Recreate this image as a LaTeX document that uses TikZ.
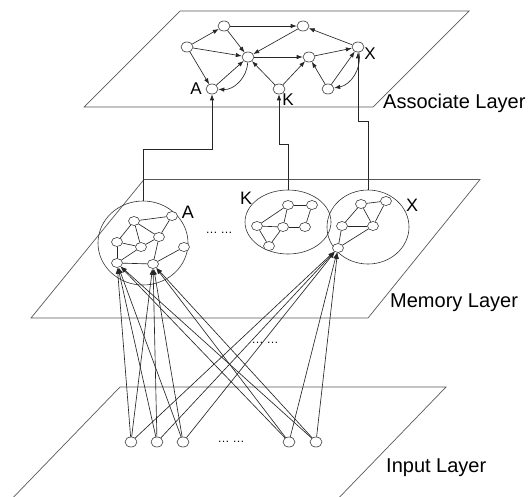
\documentclass[tikz,border=0pt]{standalone}
\usepackage{fontspec}
\setmainfont{Liberation Sans}
\usetikzlibrary{arrows.meta,shapes.geometric}

\begin{document}
\begin{tikzpicture}[x=1pt,y=-1pt,
  layer/.style={draw=black!65, line width=0.7pt},
  wire/.style={draw=black!85, line width=0.65pt},
  arr/.style={wire, -{Latex[length=6pt,width=4.4pt]}},
  unit/.style={draw=black!80, ellipse, line width=0.6pt, minimum width=12pt,
    minimum height=10pt, inner sep=0pt, fill=white},
  munit/.style={unit, minimum width=11pt, minimum height=9pt},
  cluster/.style={draw=black!80, ellipse, line width=0.6pt, inner sep=0pt},
  lay/.style={font=\fontsize{20}{20}\selectfont, anchor=base west, inner sep=0pt},
  tag/.style={font=\fontsize{17}{17}\selectfont, inner sep=0pt},
  dots/.style={font=\fontsize{12}{12}\selectfont, inner sep=0pt},
]
\useasboundingbox (0,0) rectangle (532,496);

% ---- the three layer planes
\draw[layer] (180,11) -- (469,11) -- (373,107) -- (84,107) -- cycle;
\draw[layer] (144,179.5) -- (480,179.5) -- (368,318) -- (31,318) -- cycle;
\draw[layer] (120,387) -- (446,387) -- (330,507) -- (4,507) -- cycle;

\node[lay] (labA) at (383,108) {Associate Layer};
\node[lay] (labM) at (390,307) {Memory Layer};
\node[lay] (labI) at (386,472) {Input Layer};

% ---- associate layer network
\node[unit] (a1) at (187,47) {};
\node[unit] (a2) at (224,26) {};
\node[unit] (a3) at (303,26) {};
\node[unit] (a4) at (248,57) {};
\node[unit] (a5) at (309,57) {};
\node[unit] (aX) at (358,47) {};
\node[unit] (aA) at (212,89) {};
\node[unit] (aK) at (279,89) {};
\node[unit] (a9) at (328,89) {};

\node[tag] (tA) at (196,89) {A};
\node[tag] (tK) at (288,100) {K};
\node[tag] (tX) at (370,54) {X};

\draw[arr] (a1) -- (a2);
\draw[arr] (a2) -- (a3);
\draw[arr] (a2) -- (a4);
\draw[arr] (a1) -- (a4);
\draw[arr] (a3) -- (a4);
\draw[arr] (aX) -- (a3);
\draw[arr] (a4) -- (a5);
\draw[arr] (a5) -- (aX);
\draw[arr] (a1) -- (aA);
\draw[arr] (aA) -- (a4);
\draw[arr] (a4) to[bend left=45] (aA);
\draw[arr] (aK) -- (a4);
\draw[arr] (aK) -- (a5);
\draw[arr] (a9) -- (a5);
\draw[arr] (a9) -- (aX);
\draw[arr] (aX) to[bend left=45] (a9);

% ---- memory layer clusters
\node[cluster, minimum width=90pt, minimum height=84pt] (cA) at (143,243) {};
\node[cluster, minimum width=86pt, minimum height=64pt] (cK) at (288,222) {};
\node[cluster, minimum width=82pt, minimum height=74pt] (cX) at (368,227) {};

\node[tag, font=\fontsize{18}{18}\selectfont] (mA) at (188,212) {A};
\node[tag, font=\fontsize{18}{18}\selectfont] (mK) at (246,198) {K};
\node[tag, font=\fontsize{18}{18}\selectfont] (mX) at (412,205) {X};
\node[dots] (dm) at (219,233) {…\hspace{3pt}…};

% cluster A
\node[munit] (n1) at (134,221) {};
\node[munit] (n2) at (172,216) {};
\node[munit] (n3) at (117,242) {};
\node[munit] (n4) at (141,247) {};
\node[munit] (n5) at (159,237) {};
\node[munit] (n6) at (184,247) {};
\node[munit] (n7) at (117,263) {};
\node[munit] (n8) at (153,264) {};
\foreach \p/\q in {n1/n2,n1/n3,n1/n4,n1/n5,n2/n5,n3/n4,n3/n7,n4/n7,n4/n5,n5/n8,n6/n8,n7/n8}
  \draw[wire] (\p) -- (\q);

% cluster K
\node[munit] (k1) at (288,205) {};
\node[munit] (k2) at (312,205) {};
\node[munit] (k3) at (257,226) {};
\node[munit] (k4) at (283,227) {};
\node[munit] (k5) at (305,227) {};
\node[munit] (k6) at (269,246) {};
\foreach \p/\q in {k1/k2,k1/k3,k1/k4,k2/k5,k3/k4,k4/k5,k3/k6,k4/k6}
  \draw[wire] (\p) -- (\q);

% cluster X
\node[munit] (x1) at (361,204) {};
\node[munit] (x2) at (386,201) {};
\node[munit] (x3) at (342,226) {};
\node[munit] (x4) at (373,226) {};
\node[munit] (x5) at (338,248) {};
\foreach \p/\q in {x1/x2,x1/x3,x1/x4,x2/x4,x3/x4,x3/x5,x4/x5}
  \draw[wire] (\p) -- (\q);

% ---- links from clusters up to their associate units
\coordinate (jA) at (212,149);
\coordinate (jK) at (279,144);
\coordinate (jX) at (358,121);
\draw[arr] (cA.north) |- (jA) -- (aA);
\draw[arr] (cK.north) |- (jK) -- (aK);
\draw[arr] (cX.north) |- (jX) -- (aX);

% ---- input layer
\node[unit] (i1) at (131,442) {};
\node[unit] (i2) at (157,442) {};
\node[unit] (i3) at (183,442) {};
\node[unit] (i4) at (289,442) {};
\node[unit] (i5) at (316,442) {};
\node[dots] (di) at (231,442) {…\hspace{3pt}…};
\node[dots] (dmid) at (265,343) {…\hspace{3pt}…};

\foreach \i in {i1,i2,i3,i4,i5}
  \foreach \m in {n7,n8,x5}
    \draw[arr] (\i) -- (\m);
\end{tikzpicture}
\end{document}
